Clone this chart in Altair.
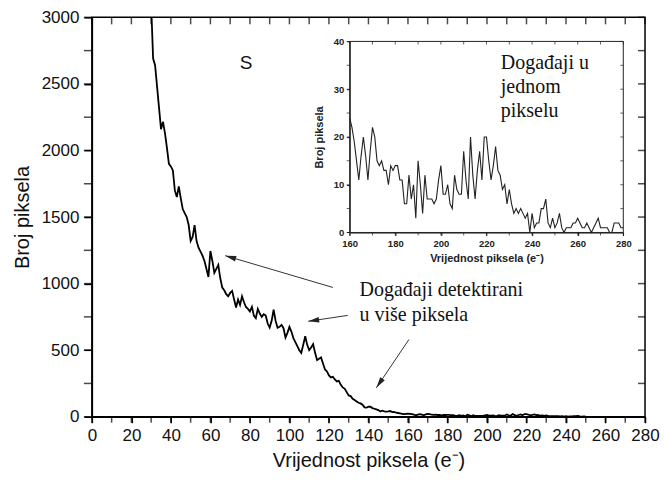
import math
import altair as alt
import pandas as pd

# ---------------- data ----------------
# main histogram, pixel value 30..159 (counts)
main_x = list(range(30, 160))
main_counts = [
    3100, 2690, 2640, 2480, 2320, 2160, 2215, 2130, 2020, 1900,
    1880, 1850, 1700, 1650, 1730, 1640, 1560, 1530, 1500, 1440,
    1320, 1350, 1440, 1320, 1270, 1240, 1210, 1170, 1110, 1050,
    1245, 1170, 1080, 1110, 1140, 1040, 970, 950, 920, 905,
    930, 945, 880, 820, 880, 840, 905, 860, 825, 810,
    790, 825, 760, 740, 810, 775, 750, 770, 760, 700,
    670, 720, 805, 720, 668, 675, 690, 665, 595, 630,
    675, 640, 590, 560, 530, 500, 480, 540, 605, 540,
    500, 520, 545, 480, 425, 435, 445, 400, 355, 340,
    310, 295, 300, 280, 265, 270, 240, 220, 210, 185,
    160, 155, 135, 125, 115, 105, 100, 90, 70, 68,
    76, 75, 65, 60, 55, 50, 40, 45, 40, 38,
    40, 43, 35, 36, 30, 28, 25, 22, 19, 22,
]

# inset histogram (single-pixel events), pixel value 160..280
inset_x = list(range(160, 281))
inset_counts = [
    24, 22, 19, 15, 11, 16, 20, 16, 11, 17,
    22, 20, 15, 14, 15, 13, 13, 10, 14, 13,
    14, 14, 11, 11, 6, 6, 12, 7, 10, 3,
    15, 10, 4, 12, 7, 7, 7, 6, 7, 11,
    14, 8, 8, 10, 6, 5, 12, 9, 8, 8,
    17, 11, 7, 20, 12, 7, 13, 17, 11, 20,
    20, 15, 11, 14, 18, 13, 12, 9, 10, 6,
    9, 6, 4, 5, 4, 5, 4, 3, 4, 0,
    4, 1, 2, 2, 5, 5, 7, 2, 1, 3,
    1, 2, 4, 1, 0, 1, 1, 1, 2, 2,
    3, 2, 1, 1, 2, 1, 0, 1, 2, 3,
    1, 1, 1, 1, 0, 0, 2, 2, 2, 1,
    1,
]
main_end = 250  # main curve drawn up to this pixel value

main_x_labels = list(range(0, 281, 20))
main_y_labels = list(range(0, 3001, 500))
main_x_ticks = list(range(0, 281, 10))
main_y_ticks = list(range(0, 3001, 250))
inset_x_labels = list(range(160, 281, 20))
inset_y_labels = list(range(0, 41, 10))
inset_x_ticks = list(range(160, 281, 10))
inset_y_ticks = list(range(0, 41, 5))

main_domain_x = [0, 280]
main_domain_y = [0, 3000]
inset_domain_x = [160, 280]
inset_domain_y = [0, 40]

x_title = "Vrijednost piksela (e⁻)"
y_title = "Broj piksela"
panel_label = ["S"]
panel_label_x = [78]
panel_label_y = [2660]

note_multi = ["Događaji detektirani", "u više piksela"]
note_multi_x = [135.5]
note_multi_y = [906]
note_single = ["Događaji u", "jednom", "pikselu"]
note_single_x = [207]
note_single_y = [2609]

arrow_tail_x = [122, 129.5, 160.5]
arrow_tail_y = [971, 761, 580]
arrow_tip_x = [67.5, 109.5, 144]
arrow_tip_y = [1210, 717, 217]

# ---------------- layout ----------------
W, H = 554, 400
inset_box_x = [130.5, 269]     # inset placed at these main-chart coordinates
inset_box_y = [1384, 2819]
sx = W / (main_domain_x[1] - main_domain_x[0])
sy = H / (main_domain_y[1] - main_domain_y[0])
inset_rx = [inset_box_x[0] * sx, inset_box_x[1] * sx]
inset_ry = [H - inset_box_y[0] * sy, H - inset_box_y[1] * sy]

SANS = "Liberation Sans"
SERIF = "Liberation Serif"
INK = "#111"

xs = alt.Scale(domain=main_domain_x, nice=False, zero=False)
ys = alt.Scale(domain=main_domain_y, nice=False, zero=False)
ixs = alt.Scale(domain=inset_domain_x, range=inset_rx, nice=False, zero=False)
iys = alt.Scale(domain=inset_domain_y, range=inset_ry, nice=False, zero=False)

main_xax = alt.Axis(
    orient="bottom", values=main_x_labels, title=x_title,
    tickSize=6, labelPadding=5, titlePadding=7,
    labelFontSize=17, titleFontSize=20, titleFontWeight="normal",
    labelFont=SANS, titleFont=SANS, domainWidth=1.5, tickWidth=1.5,
    domainColor="black", tickColor="black", labelColor=INK, titleColor=INK,
    grid=False, labelFlush=False, labelOverlap=False, format="d")
main_yax = alt.Axis(
    orient="left", values=main_y_labels, title=y_title,
    tickSize=8, labelPadding=5, titlePadding=9,
    labelFontSize=17, titleFontSize=20, titleFontWeight="normal",
    labelFont=SANS, titleFont=SANS, domainWidth=1.5, tickWidth=1.5,
    domainColor="black", tickColor="black", labelColor=INK, titleColor=INK,
    grid=False, labelFlush=False, labelOverlap=False, format="d")
inset_xax = alt.Axis(
    orient="bottom", offset=-(H - inset_ry[0]), values=inset_x_labels, title=x_title,
    tickSize=3, labelPadding=3, titlePadding=5,
    labelFontSize=9.5, titleFontSize=11, labelFontWeight="bold", titleFontWeight="bold",
    labelFont=SANS, titleFont=SANS, domainColor="black", tickColor="black",
    labelColor="#222", titleColor="#222", grid=False, labelFlush=False,
    labelOverlap=False, format="d")
inset_yax = alt.Axis(
    orient="left", offset=-inset_rx[0], values=inset_y_labels, title=y_title,
    tickSize=3, labelPadding=3, titlePadding=9,
    labelFontSize=9.5, titleFontSize=11, labelFontWeight="bold", titleFontWeight="bold",
    labelFont=SANS, titleFont=SANS, domainColor="black", tickColor="black",
    labelColor="#222", titleColor="#222", grid=False, labelFlush=False,
    labelOverlap=False, format="d")


def mx(field):
    return alt.X(field, type="quantitative", scale=xs, axis=main_xax)


def my(field):
    return alt.Y(field, type="quantitative", scale=ys, axis=main_yax)


def ix(field):
    return alt.X(field, type="quantitative", scale=ixs, axis=inset_xax)


def iy(field):
    return alt.Y(field, type="quantitative", scale=iys, axis=inset_yax)


main_df = pd.DataFrame({
    "x": main_x + [v for v in inset_x if v <= main_end],
    "y": main_counts + [c for v, c in zip(inset_x, inset_counts) if v <= main_end],
})
main_line = alt.Chart(main_df).mark_line(color="black", strokeWidth=1.8, clip=True).encode(
    x=mx("x"), y=my("y"))

n_xt = len(main_x_ticks)
n_yt = len(main_y_ticks)
# outward minor ticks on bottom/left, inward ticks on top/right
bottom_ticks = alt.Chart(pd.DataFrame({"x": main_x_ticks, "y": [main_domain_y[0]] * n_xt})).mark_tick(
    orient="vertical", size=6, thickness=1.5, color="black", yOffset=3
).encode(x=mx("x"), y=my("y"))
left_ticks = alt.Chart(pd.DataFrame({"x": [main_domain_x[0]] * n_yt, "y": main_y_ticks})).mark_tick(
    orient="horizontal", size=8, thickness=1.5, color="black", xOffset=-4
).encode(x=mx("x"), y=my("y"))
top_ticks = alt.Chart(pd.DataFrame({"x": main_x_ticks, "y": [main_domain_y[1]] * n_xt})).mark_tick(
    orient="vertical", size=7, thickness=1.5, color="black", yOffset=3.5
).encode(x=mx("x"), y=my("y"))
right_ticks = alt.Chart(pd.DataFrame({"x": [main_domain_x[1]] * n_yt, "y": main_y_ticks})).mark_tick(
    orient="horizontal", size=7, thickness=1.5, color="black", xOffset=-3.5
).encode(x=mx("x"), y=my("y"))

s_text = alt.Chart(pd.DataFrame({"x": panel_label_x, "y": panel_label_y, "t": panel_label})).mark_text(
    font=SANS, fontSize=19, color=INK, align="center", baseline="middle"
).encode(x=mx("x"), y=my("y"), text="t:N")

multi_text = alt.Chart(pd.DataFrame({"x": note_multi_x, "y": note_multi_y, "t": [note_multi]})).mark_text(
    font=SERIF, fontSize=20, color=INK, align="left", baseline="alphabetic", lineHeight=25
).encode(x=mx("x"), y=my("y"), text="t")

single_text = alt.Chart(pd.DataFrame({"x": note_single_x, "y": note_single_y, "t": [note_single]})).mark_text(
    font=SERIF, fontSize=20, color=INK, align="left", baseline="alphabetic", lineHeight=24
).encode(x=mx("x"), y=my("y"), text="t")

angles = []
for tx, ty, hx, hy in zip(arrow_tail_x, arrow_tail_y, arrow_tip_x, arrow_tip_y):
    dx = (hx - tx) * sx
    dys = -(hy - ty) * sy
    angles.append(math.degrees(math.atan2(dx, -dys)) % 360)

arrow_df = pd.DataFrame({
    "x": arrow_tail_x, "y": arrow_tail_y,
    "x2": arrow_tip_x, "y2": arrow_tip_y, "angle": angles,
})
arrow_lines = alt.Chart(arrow_df).mark_rule(color="#333", strokeWidth=1).encode(
    x=mx("x"), y=my("y"), x2="x2:Q", y2="y2:Q")
arrow_heads = alt.Chart(arrow_df).mark_point(
    shape="M0,0L0.5,2L-0.5,2Z", filled=True, color="#222", opacity=1, size=121
).encode(x=mx("x2"), y=my("y2"), angle=alt.Angle("angle:Q", scale=None))

main_layer = alt.layer(main_line, bottom_ticks, left_ticks, top_ticks, right_ticks,
                       s_text, arrow_lines, arrow_heads, multi_text, single_text)

# ---------------- inset ----------------
inset_df = pd.DataFrame({"x": inset_x, "y": inset_counts})
inset_line = alt.Chart(inset_df).mark_line(color="#222", strokeWidth=1.1).encode(x=ix("x"), y=iy("y"))

inset_frame_df = pd.DataFrame({
    "x": [inset_domain_x[0]], "x2": [inset_domain_x[1]],
    "y": [inset_domain_y[0]], "y2": [inset_domain_y[1]],
})
inset_frame = alt.Chart(inset_frame_df).mark_rect(
    fillOpacity=0, stroke="#222", strokeWidth=1
).encode(x=ix("x"), x2="x2:Q", y=iy("y"), y2="y2:Q")

n_ixt = len(inset_x_ticks)
n_iyt = len(inset_y_ticks)
inset_bottom_ticks = alt.Chart(pd.DataFrame({"x": inset_x_ticks, "y": [inset_domain_y[0]] * n_ixt})).mark_tick(
    orient="vertical", size=3, thickness=1, color="#222", yOffset=1.5
).encode(x=ix("x"), y=iy("y"))
inset_left_ticks = alt.Chart(pd.DataFrame({"x": [inset_domain_x[0]] * n_iyt, "y": inset_y_ticks})).mark_tick(
    orient="horizontal", size=3, thickness=1, color="#222", xOffset=-1.5
).encode(x=ix("x"), y=iy("y"))
inset_top_ticks = alt.Chart(pd.DataFrame({"x": inset_x_ticks, "y": [inset_domain_y[1]] * n_ixt})).mark_tick(
    orient="vertical", size=3, thickness=1, color="#222", yOffset=1.5
).encode(x=ix("x"), y=iy("y"))
inset_right_ticks = alt.Chart(pd.DataFrame({"x": [inset_domain_x[1]] * n_iyt, "y": inset_y_ticks})).mark_tick(
    orient="horizontal", size=3, thickness=1, color="#222", xOffset=-1.5
).encode(x=ix("x"), y=iy("y"))

inset_layer = alt.layer(inset_line, inset_frame, inset_bottom_ticks, inset_left_ticks,
                        inset_top_ticks, inset_right_ticks)

chart = alt.layer(main_layer, inset_layer).resolve_scale(
    x="independent", y="independent"
).properties(
    width=W, height=H,
    padding={"left": 4, "top": 0, "right": 0, "bottom": 0},
    background="white",
).configure_view(stroke="black", strokeWidth=1.5).configure_axis(grid=False)

chart.save("out.html", embed_options={"renderer": "svg", "actions": False})
